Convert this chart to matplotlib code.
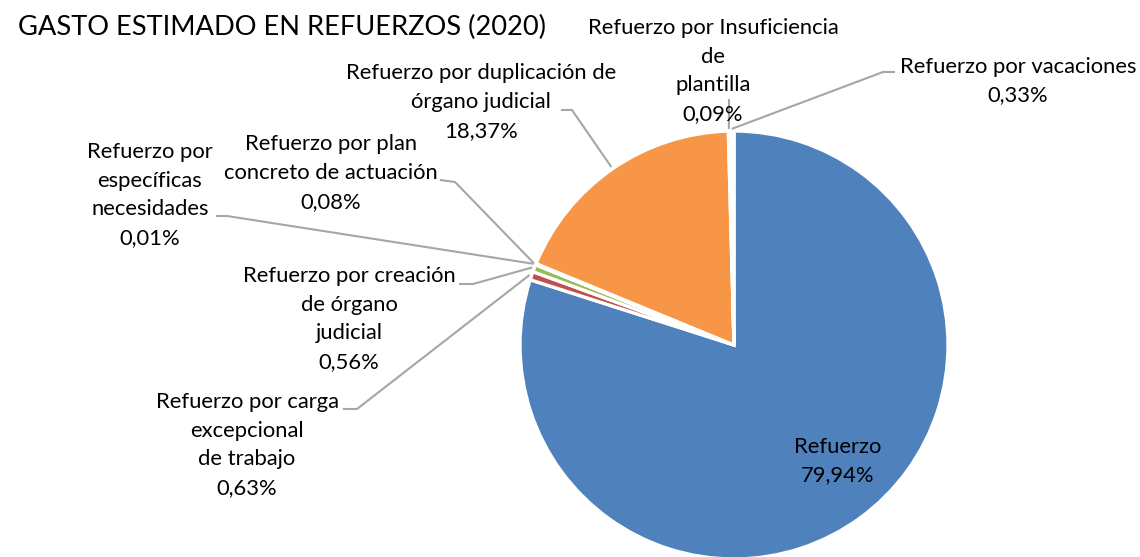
"""
Gasto estimado en refuerzos (2020) - pie chart with leader-line labels.
"""

import numpy as np
import matplotlib.pyplot as plt

plt.rcParams['font.family'] = ['Lato', 'DejaVu Sans']

# data (clockwise from 12 o'clock)
categorias = [
    'Refuerzo',
    'Refuerzo por carga\nexcepcional\nde trabajo',
    'Refuerzo por creación\nde órgano\njudicial',
    'Refuerzo por\nespecíficas\nnecesidades',
    'Refuerzo por plan\nconcreto de actuación',
    'Refuerzo por duplicación de\nórgano judicial',
    'Refuerzo por Insuficiencia\nde\nplantilla',
    'Refuerzo por vacaciones',
]
porcentajes = [79.94, 0.63, 0.56, 0.01, 0.08, 18.37, 0.09, 0.33]
colores = ['#4F81BD', '#C0504D', '#9BBB59', '#8064A2',
           '#4BACC6', '#F79646', '#FFFFFF', '#FFFFFF']

W, H = 1140, 557
fig = plt.figure(figsize=(W / 100, H / 100), dpi=100)
ax = fig.add_axes([0, 0, 1, 1])

cx, cy, r = 734, H - 345, 214
ax.pie(porcentajes, colors=colores, startangle=90, counterclock=False,
       center=(cx, cy), radius=r,
       wedgeprops=dict(edgecolor='white', linewidth=2.4))
ax.set_xlim(0, W)
ax.set_ylim(0, H)
ax.set_aspect('equal')
ax.axis('off')

# mid angle of each wedge (degrees, standard orientation)
frac = np.array(porcentajes) / sum(porcentajes)
cum = np.cumsum(frac) - frac / 2
mid = np.deg2rad(90 - 360 * cum)


def etiqueta(i):
    return categorias[i] + '\n' + f'{porcentajes[i]:.2f}'.replace('.', ',') + '%'


# label centres and leader elbows (image pixel coords, y down)
pos_texto = {
    1: (247, 445), 2: (349, 319), 3: (150, 195), 4: (331, 173),
    5: (481, 102), 6: (713, 71), 7: (1018, 81),
}
codos = {
    1: [(343, 409), (357, 409)],
    2: [(459, 284), (473, 284)],
    3: [(216, 216), (227, 216)],
    4: [(440, 180), (455, 182)],
    5: [(561, 110), (572, 110)],
    6: [(729, 99)],
    7: [(895, 72), (883, 72)],
}

for i, (tx, ty) in pos_texto.items():
    ax.text(tx, H - ty, etiqueta(i), ha='center', va='center',
            fontsize=15.8, linespacing=1.56, color='#000000')
    px = cx + r * 1.01 * np.cos(mid[i])
    py = cy + r * 1.01 * np.sin(mid[i])
    xs = [p[0] for p in codos[i]] + [px]
    ys = [H - p[1] for p in codos[i]] + [py]
    ax.plot(xs, ys, color='#A6A6A6', lw=1.5, solid_capstyle='butt')

# label inside the big wedge
ax.text(838, H - 461, etiqueta(0), ha='center', va='center',
        fontsize=15.8, linespacing=1.56, color='#000000')

fig.text(18 / W, 1 - 27 / H, 'GASTO ESTIMADO EN REFUERZOS (2020)',
         ha='left', va='center', fontsize=19.6, color='#000000')

fig.savefig('out.png', dpi=100)
